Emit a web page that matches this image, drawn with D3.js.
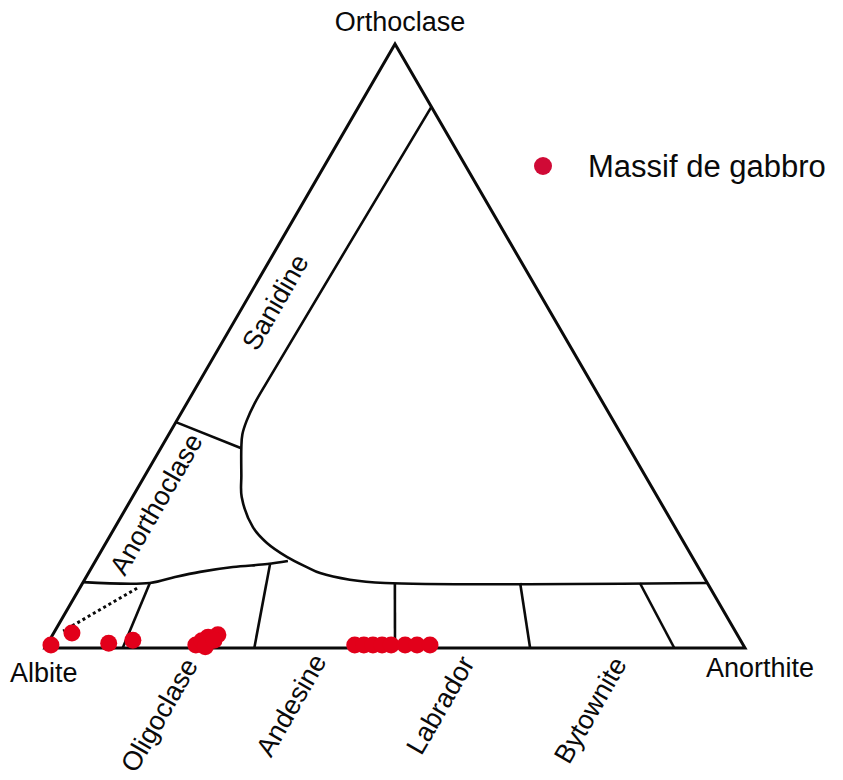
<!DOCTYPE html>
<html><head><meta charset="utf-8">
<script src="https://cdn.jsdelivr.net/npm/d3@7"></script>
<style>
html,body{margin:0;padding:0;background:#fff;}
svg{display:block;font-family:"Liberation Sans",Arial,sans-serif;}
</style>
</head><body>
<svg id="chart" width="843" height="780"></svg>
<script>
// ---- Data (ternary percentages: An = anorthite, Or = orthoclase; Ab = 100 - An - Or) ----
const seriesName = "Massif de gabbro";
const sampleAn = [0.6, 2.6, 8.7, 11.9, 21.3, 21.8, 22.4, 23.6, 22.8, 23.5, 44.0, 45.3, 46.6, 47.9, 49.2, 51.2, 52.9, 54.75];
const sampleOr = [0.5, 2.5, 0.8, 1.3, 0.5, 1.2, 1.8, 2.2, 0.2, 1.3, 0.5, 0.5, 0.5, 0.5, 0.5, 0.5, 0.5, 0.5];

const vertexNames = ["Albite", "Anorthite", "Orthoclase"];
const fieldNames = ["Sanidine", "Anorthoclase", "Oligoclase", "Andesine", "Labrador", "Bytownite"];

// boundary: alkali feldspar / ternary solvus curve  [An, Or]
const solvusAn = [10.4, 9.7, 9.7, 10.0, 10.5, 11.4, 13.75, 15.6, 19.7, 23.0, 27.0, 30.7, 33.1, 37.9, 43.2, 89.24];
const solvusOr = [89.6, 44.4, 40.5, 37.6, 35.4, 33.3, 28.6, 25.0, 20.0, 17.4, 15.1, 13.4, 12.4, 11.3, 10.76, 10.76];
// anorthoclase lower boundary
const lowerAn = [0, 9.6, 12.7, 15.85, 20.15, 24.8, 27.5];
const lowerOr = [10.9, 10.76, 11.75, 12.6, 13.4, 13.9, 14.4];
// anorthoclase / sanidine divide
const divideAn = [0, 11.4];
const divideOr = [37.4, 33.1];
// plagioclase dividers: top [An, Or] -> bottom [An, 0]
const plagTopAn = [9.6, 25.2, 44.6, 62.5, 79.6];
const plagTopOr = [10.76, 13.9, 10.76, 10.76, 10.76];
const plagBotAn = [11.1, 29.9, 50.0, 69.3, 89.9];
// dotted trend line
const dottedAn = [8.2, 1.2];
const dottedOr = [9.9, 2.8];

// ---- Scales ----
const S3 = Math.sqrt(3) / 2;
const x = d3.scaleLinear().domain([0, 1]).range([45, 745]);
const y = d3.scaleLinear().domain([0, S3]).range([648, 44]);
const px = (an, or) => x((an + or / 2) / 100);
const py = (an, or) => y(or / 100 * S3);

const svg = d3.select("#chart");
const g = svg.append("g");

const line = d3.line().x(d => px(d[0], d[1])).y(d => py(d[0], d[1]));
const zip = (a, b) => a.map((v, i) => [v, b[i]]);
const ink = "#0a0a0a";

// triangle
g.append("path")
  .attr("d", line([[0, 0], [100, 0], [0, 100]]) + "Z")
  .attr("fill", "none").attr("stroke", ink).attr("stroke-width", 3).attr("stroke-linejoin", "miter");

// solvus curve
g.append("path")
  .attr("d", line.curve(d3.curveCatmullRom.alpha(0.5))(zip(solvusAn, solvusOr)))
  .attr("fill", "none").attr("stroke", ink).attr("stroke-width", 2.6);
// lower boundary
g.append("path")
  .attr("d", line.curve(d3.curveCatmullRom.alpha(0.5))(zip(lowerAn, lowerOr)))
  .attr("fill", "none").attr("stroke", ink).attr("stroke-width", 2.6);
line.curve(d3.curveLinear);
// divide
g.append("path")
  .attr("d", line(zip(divideAn, divideOr)))
  .attr("fill", "none").attr("stroke", ink).attr("stroke-width", 2.6);
// plagioclase dividers
plagTopAn.forEach((a, i) => {
  g.append("path")
    .attr("d", line([[a, plagTopOr[i]], [plagBotAn[i], 0]]))
    .attr("fill", "none").attr("stroke", ink).attr("stroke-width", 2.6);
});
// dotted
g.append("path")
  .attr("d", line(zip(dottedAn, dottedOr)))
  .attr("fill", "none").attr("stroke", ink).attr("stroke-width", 3)
  .attr("stroke-dasharray", "3,3");

// samples
g.selectAll("circle.pt").data(zip(sampleAn, sampleOr)).enter().append("circle")
  .attr("class", "pt")
  .attr("cx", d => px(d[0], d[1])).attr("cy", d => py(d[0], d[1]))
  .attr("r", 8.5).attr("fill", "#e2001a");

// vertex labels
const fs = 27;
g.append("text").text(vertexNames[2]).attr("x", px(0, 100) + 5).attr("y", 31)
  .attr("text-anchor", "middle").attr("font-size", fs).attr("fill", ink);
g.append("text").text(vertexNames[0]).attr("x", 10).attr("y", 682)
  .attr("font-size", fs).attr("fill", ink);
g.append("text").text(vertexNames[1]).attr("x", 706).attr("y", 677)
  .attr("font-size", fs).attr("fill", ink);

// field labels (rotated)
const fieldPos = [[275, 302], [156, 504], [159, 715], [291, 705], [440, 705], [590, 710]];
fieldNames.forEach((n, i) => {
  g.append("text").text(n)
    .attr("transform", `translate(${fieldPos[i][0]},${fieldPos[i][1]}) rotate(-60)`)
    .attr("text-anchor", "middle").attr("dy", "0.35em")
    .attr("font-size", 27).attr("fill", ink);
});

// legend
g.append("circle").attr("cx", 543).attr("cy", 166).attr("r", 9).attr("fill", "#d00a36");
g.append("text").text(seriesName).attr("x", 588).attr("y", 177)
  .attr("font-size", 31).attr("fill", ink);
</script>
</body></html>
